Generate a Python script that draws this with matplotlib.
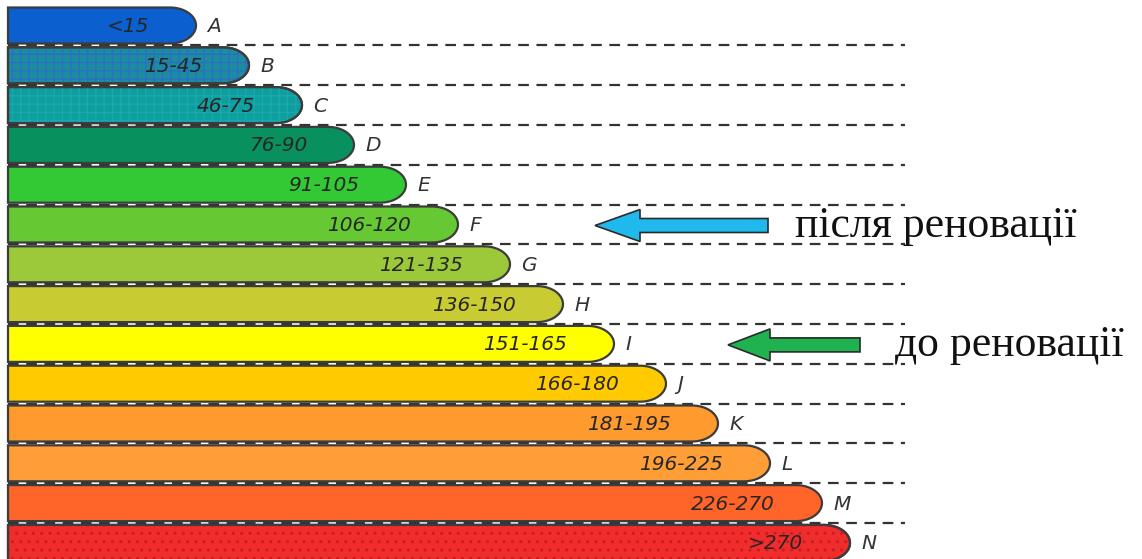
import numpy as np
import matplotlib
matplotlib.use("Agg")
import matplotlib.pyplot as plt
from matplotlib.patches import Polygon

# --- Data ---
classes = ["A", "B", "C", "D", "E", "F", "G", "H", "I", "J", "K", "L", "M", "N"]
ranges = ["<15", "15-45", "46-75", "76-90", "91-105", "106-120", "121-135",
          "136-150", "151-165", "166-180", "181-195", "196-225", "226-270", ">270"]
# bar end position (px from left of picture)
bar_end = [196, 249, 302, 354, 406, 458, 510, 563, 614, 666, 718, 770, 822, 850]
colors = ["#0b5fcf", "#1b8d9f", "#0e9e9b", "#08905f", "#33c934", "#66c833",
          "#9bc93a", "#c9cb33", "#ffff00", "#ffcb00", "#ff9a2e", "#ff9e36",
          "#ff6428", "#f02c2c"]
hatches = [None, "++", "++", None, None, None, None, None, None, None, None,
           None, None, ".."]
hatch_colors = [None, "#2b6fc4", "#1aa7b0", None, None, None, None, None, None,
                None, None, None, None, "#c81e1e"]

after_label = "після реновації"
before_label = "до реновації"
after_class = "F"
before_class = "I"

# --- Layout ---
W, H = 1142, 559
fig = plt.figure(figsize=(W / 100, H / 100), dpi=100)
ax = fig.add_axes([0, 0, 1, 1])
ax.set_xlim(0, W)
ax.set_ylim(H, 0)
ax.axis("off")

x0 = 8
top0 = 7.5
pitch = 39.8
bh = 36
cap = 26

theta = np.linspace(np.pi / 2, -np.pi / 2, 40)

for i, (cls, rng, end, col) in enumerate(zip(classes, ranges, bar_end, colors)):
    top = top0 + i * pitch
    mid = top + bh / 2
    bot = top + bh
    # dashed separator below each row
    if i < len(classes) - 1:
        ax.plot([x0, 905], [bot + 1.8, bot + 1.8], color="#333333", lw=1.6,
                dashes=(4.8, 3.4), zorder=1)
    cx = end - cap
    ex = cx + cap * np.cos(theta)
    ey = mid - (bh / 2) * np.sin(theta)
    pts = [(x0, top), (cx, top)] + list(zip(ex, ey)) + [(cx, bot), (x0, bot)]
    ax.add_patch(Polygon(pts, closed=True, facecolor=col, edgecolor="#3c3c3c",
                         lw=1.6, zorder=2))
    if hatches[i]:
        ax.add_patch(Polygon(pts, closed=True, facecolor="none",
                             edgecolor=hatch_colors[i], hatch=hatches[i],
                             lw=0, zorder=2.5))
        ax.add_patch(Polygon(pts, closed=True, facecolor="none",
                             edgecolor="#3c3c3c", lw=1.6, zorder=2.6))
    ax.text(end - 47, mid + 1, rng, ha="right", va="center", fontsize=14.5,
            style="italic", color="#262626", zorder=3)
    ax.text(end + 11, mid + 1, cls, ha="left", va="center", fontsize=14.5,
            style="italic", color="#333333", zorder=3)

# --- Arrows with captions ---
def mid_of(cls):
    return top0 + classes.index(cls) * pitch + bh / 2

ya = mid_of(after_class) + 1
ax.arrow(768, ya, -173, 0, width=14, head_width=32, head_length=45,
         length_includes_head=True, facecolor="#1fb9ee", edgecolor="#2a2a2a",
         lw=1.2, zorder=4)
ax.text(795, ya, after_label, ha="left", va="center", fontsize=31.5,
        family="Liberation Serif", color="#111111")

yb = mid_of(before_class) + 1
ax.arrow(860, yb, -132, 0, width=14, head_width=32, head_length=42,
         length_includes_head=True, facecolor="#1fb24e", edgecolor="#2a2a2a",
         lw=1.2, zorder=4)
ax.text(895, yb, before_label, ha="left", va="center", fontsize=31.5,
        family="Liberation Serif", color="#111111")

fig.savefig("out.png", dpi=100)
